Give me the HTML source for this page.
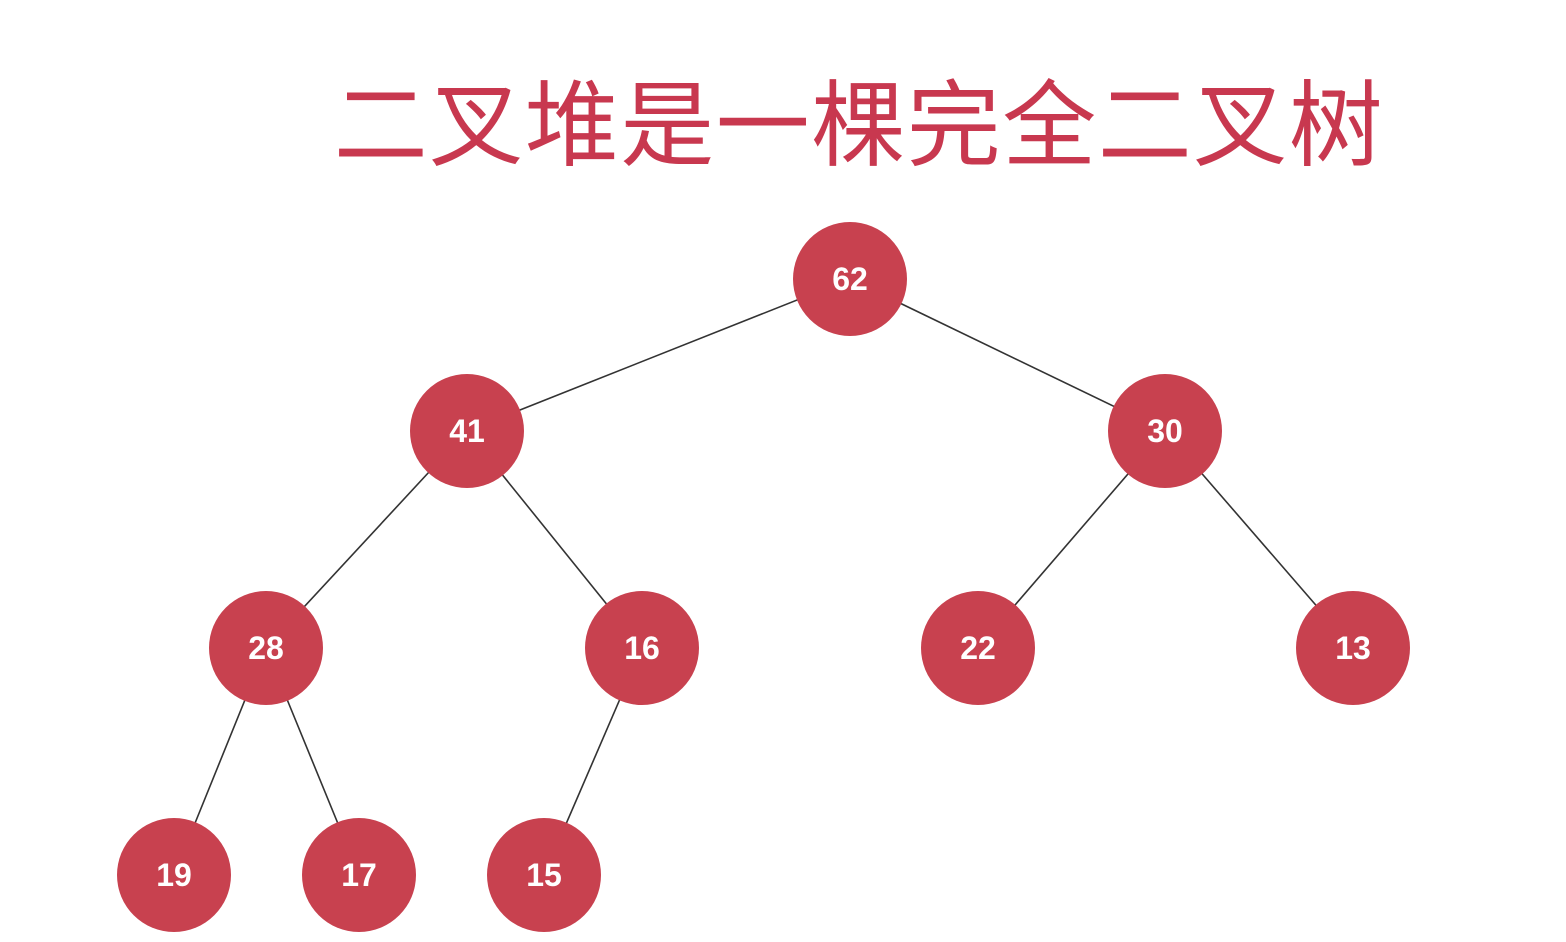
<!DOCTYPE html>
<html><head><meta charset="utf-8"><style>
html,body{margin:0;padding:0;background:#fff;}
svg{display:block;}
</style></head><body>
<svg width="1566" height="942" viewBox="0 0 1566 942" xmlns="http://www.w3.org/2000/svg">
<text x="859" y="158" text-anchor="middle" font-family="'Liberation Sans','Noto Sans CJK SC',sans-serif" font-size="94" fill="#c8384f" letter-spacing="1.5">二叉堆是一棵完全二叉树</text>
<g stroke="#333" stroke-width="1.6">
<line x1="850" y1="279" x2="467" y2="431"/>
<line x1="850" y1="279" x2="1165" y2="431"/>
<line x1="467" y1="431" x2="266" y2="648"/>
<line x1="467" y1="431" x2="642" y2="648"/>
<line x1="1165" y1="431" x2="978" y2="648"/>
<line x1="1165" y1="431" x2="1353" y2="648"/>
<line x1="266" y1="648" x2="174" y2="875"/>
<line x1="266" y1="648" x2="359" y2="875"/>
<line x1="642" y1="648" x2="544" y2="875"/>
</g>
<g fill="#c8414f">
<circle cx="850" cy="279" r="57"/>
<circle cx="467" cy="431" r="57"/>
<circle cx="1165" cy="431" r="57"/>
<circle cx="266" cy="648" r="57"/>
<circle cx="642" cy="648" r="57"/>
<circle cx="978" cy="648" r="57"/>
<circle cx="1353" cy="648" r="57"/>
<circle cx="174" cy="875" r="57"/>
<circle cx="359" cy="875" r="57"/>
<circle cx="544" cy="875" r="57"/>
</g>
<g fill="#fff" font-family="'Liberation Sans',sans-serif" font-weight="bold" font-size="32" text-anchor="middle">
<text x="850" y="290">62</text>
<text x="467" y="442">41</text>
<text x="1165" y="442">30</text>
<text x="266" y="659">28</text>
<text x="642" y="659">16</text>
<text x="978" y="659">22</text>
<text x="1353" y="659">13</text>
<text x="174" y="886">19</text>
<text x="359" y="886">17</text>
<text x="544" y="886">15</text>
</g>
</svg>
</body></html>
